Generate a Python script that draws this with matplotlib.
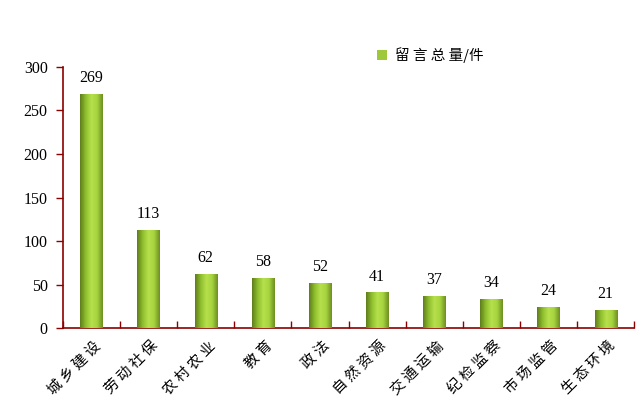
import matplotlib
matplotlib.use("Agg")
import matplotlib.pyplot as plt
import numpy as np
from matplotlib.colors import LinearSegmentedColormap
from matplotlib.patches import Patch

categories = ["城乡建设", "劳动社保", "农村农业", "教育", "政法",
              "自然资源", "交通运输", "纪检监察", "市场监管", "生态环境"]
values = [269, 113, 62, 58, 52, 41, 37, 34, 24, 21]

axis_col = "#8b0000"
cjk = ["Noto Sans CJK SC", "DejaVu Sans"]
num_font = ["Liberation Serif", "DejaVu Serif"]

fig = plt.figure(figsize=(6.42, 4.18), dpi=100)
ax = fig.add_axes([0.098, 0.215, 0.89, 0.625])

x = np.arange(len(categories))
w = 0.39
bars = ax.bar(x, values, width=w, color="#9cc83a", zorder=2)

# horizontal gradient inside each bar: dark edges, light centre
cmap = LinearSegmentedColormap.from_list(
    "g", ["#5f7d1c", "#8fbf2e", "#b6e04c", "#a6d43e", "#6e8f22"])
grad = np.linspace(0, 1, 64).reshape(1, -1)
for b in bars:
    im = ax.imshow(grad, cmap=cmap, aspect="auto", zorder=3,
                   extent=[b.get_x(), b.get_x() + b.get_width(), 0, b.get_height()])
    im.set_clip_path(b)

for xi, v in zip(x, values):
    ax.text(xi, v + 9, str(v), ha="center", va="bottom",
            fontsize=11.5, family=num_font)

ax.set_xlim(-0.5, len(categories) - 0.5)
ax.set_ylim(0, 300)
ax.set_yticks(range(0, 301, 50))
ax.set_yticklabels([str(t) for t in range(0, 301, 50)], family=num_font, fontsize=11.5)

# category ticks sit between bars
ax.set_xticks(np.arange(len(categories) + 1) - 0.5)
ax.set_xticklabels([])
ax.tick_params(axis="x", direction="in", length=5, color=axis_col, width=1)
ax.tick_params(axis="y", direction="out", length=5, color=axis_col, width=1, pad=6)
for xi, c in zip(x, categories):
    ax.text(xi + 0.04, -12, " ".join(c), rotation=45, ha="right", va="top",
            fontsize=10.5, family=cjk, rotation_mode="anchor",
            transform=ax.transData)

for s in ["top", "right"]:
    ax.spines[s].set_visible(False)
for s in ["left", "bottom"]:
    ax.spines[s].set_color(axis_col)
    ax.spines[s].set_linewidth(1.2)

handle = Patch(facecolor="#9cc83a", edgecolor="none")
ax.legend([handle], [" ".join("留言总量") + "/件"], loc="center left",
          bbox_to_anchor=(0.55, 1.046), frameon=False,
          prop={"family": cjk, "size": 10.5}, borderaxespad=0, borderpad=0,
          handlelength=0.7, handleheight=0.7, handletextpad=0.5)

fig.savefig("out.png", dpi=100)
